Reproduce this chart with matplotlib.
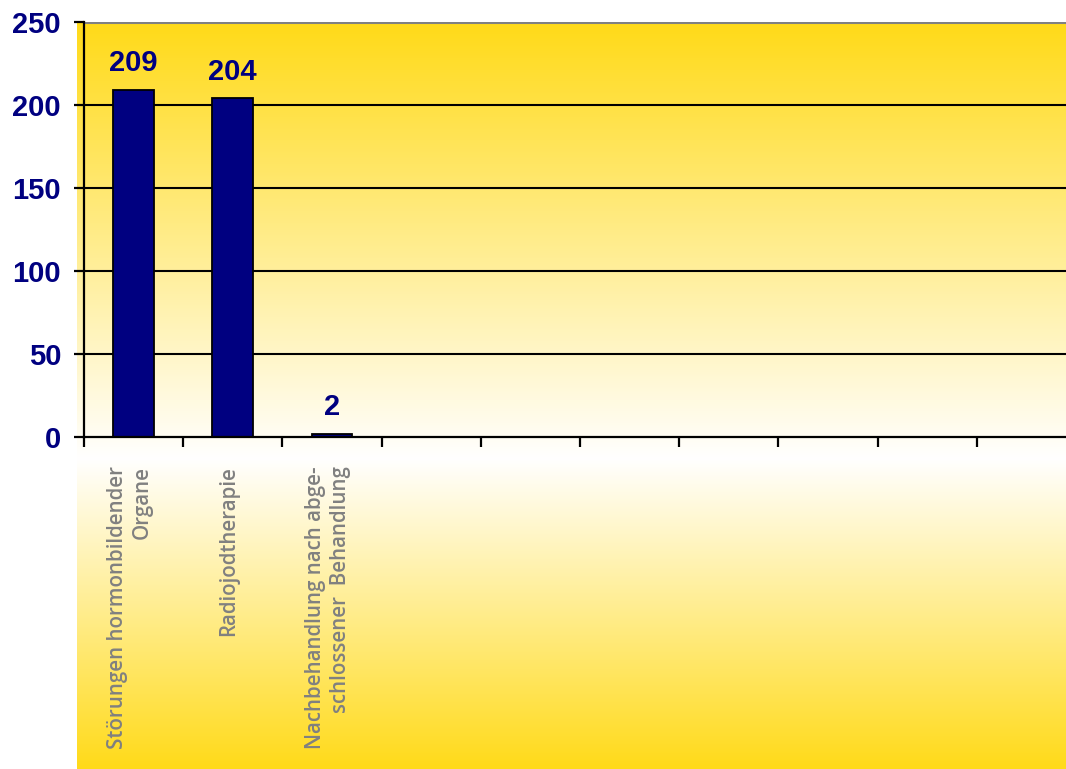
import numpy as np
import matplotlib
matplotlib.use("Agg")
import matplotlib.pyplot as plt
from matplotlib.colors import to_rgb

# Data
categories = [
    "Störungen hormonbildender\nOrgane",
    "Radiojodtherapie",
    "Nachbehandlung nach abge-\nschlossener  Behandlung",
]
values = [209, 204, 2]
n_slots = 10
y_ticks = [0, 50, 100, 150, 200, 250]

NAVY = "#000080"
GREY = "#808080"
YELLOW = "#FFDA18"

W, H, DPI = 1066, 769, 100
fig = plt.figure(figsize=(W / DPI, H / DPI), dpi=DPI)
fig.patch.set_facecolor("white")

# Vertical yellow-white-yellow gradient behind the chart area
bg_left, bg_top, bg_bottom = 77, 22, 769
bg = fig.add_axes([bg_left / W, (H - bg_bottom) / H, (W - bg_left) / W, (bg_bottom - bg_top) / H])
bg.set_axis_off()
rows = np.arange(bg_top, bg_bottom)
mid = 458.0
t = np.where(rows < mid, (mid - rows) / (mid - bg_top), (rows - mid) / (bg_bottom - mid))
t = np.clip(t, 0, 1)
yel = np.array(to_rgb(YELLOW))
white = np.ones(3)
grad = white[None, :] * (1 - t[:, None]) + yel[None, :] * t[:, None]
img = np.repeat(grad[:, None, :], 4, axis=1)
bg.imshow(img, aspect="auto", extent=[0, 1, 0, 1], interpolation="bilinear")

# Main axes (extends slightly past the right edge of the figure)
ax_left, ax_right, ax_top, ax_bottom = 84, 1076, 22, 437
ax = fig.add_axes([ax_left / W, (H - ax_bottom) / H, (ax_right - ax_left) / W, (ax_bottom - ax_top) / H])
ax.set_facecolor("none")
ax.set_xlim(0, n_slots)
ax.set_ylim(0, 250)

x = np.arange(len(values)) + 0.5
ax.bar(x, values, width=0.41, color=NAVY, edgecolor="black", linewidth=1.3, zorder=3)

for xi, v in zip(x, values):
    ax.annotate(str(v), (xi, v), xytext=(0, 13.5), textcoords="offset points",
                ha="center", va="baseline", fontsize=21, fontweight="bold",
                color=NAVY, family="Liberation Sans", zorder=4)

# Gridlines
for yv in y_ticks[1:-1]:
    ax.axhline(yv, color="black", linewidth=1.5, zorder=1)
ax.axhline(250, color=GREY, linewidth=2.2, zorder=1)

for s in ["top", "right"]:
    ax.spines[s].set_visible(False)
for s in ["left", "bottom"]:
    ax.spines[s].set_linewidth(1.6)
    ax.spines[s].set_color("black")
    ax.spines[s].set_zorder(5)

ax.set_yticks(y_ticks)
ax.set_yticklabels([str(v) for v in y_ticks], fontsize=21, fontweight="bold",
                   color=NAVY, family="Liberation Sans")
ax.tick_params(axis="y", direction="out", length=7.5, width=1.6, pad=9)

ax.set_xticks(np.arange(n_slots + 1))
ax.set_xticklabels([])
ax.tick_params(axis="x", which="major", direction="out", length=7.5, width=1.6)

ax.set_xticks(x - 0.04, categories, minor=True)
ax.tick_params(axis="x", which="minor", length=0, pad=21)
for lab in ax.get_xticklabels(minor=True):
    lab.set_rotation(90)
    lab.set_ha("center")
    lab.set_va("top")
    lab.set_multialignment("right")
    lab.set_fontsize(14.8)
    lab.set_fontweight("semibold")
    lab.set_color(GREY)
    lab.set_family("Open Sans")
    lab.set_linespacing(1.25)

fig.savefig("out.png", dpi=DPI)
